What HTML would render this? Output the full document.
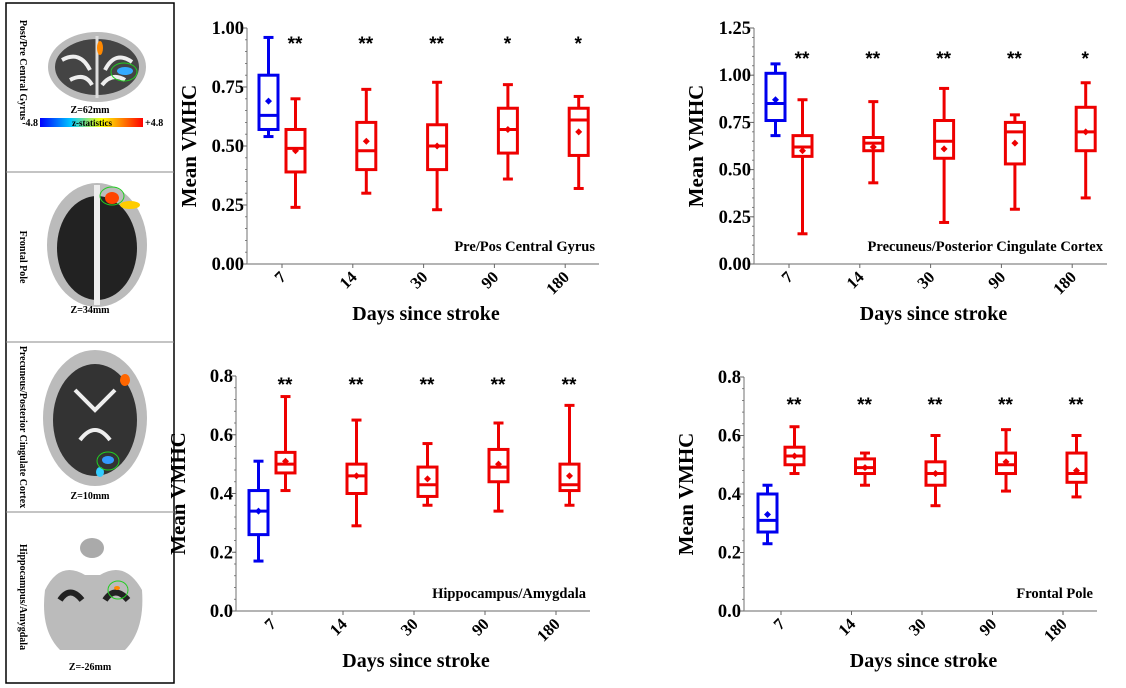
<!DOCTYPE html>
<html><head><meta charset="utf-8">
<style>
html,body{margin:0;padding:0;background:#fff;}
body{width:1126px;height:688px;position:relative;overflow:hidden;font-family:"Liberation Serif",serif;}
svg{position:absolute;left:0;top:0;}
</style></head>
<body>
<svg id="fig" width="1126" height="688" viewBox="0 0 1126 688">
  <g>
    <rect x="6" y="3" width="168" height="680" fill="#fff" stroke="#000" stroke-width="1.5"/>
    <line x1="6" y1="172" x2="174" y2="172" stroke="#888"/>
    <line x1="6" y1="342" x2="174" y2="342" stroke="#888"/>
    <line x1="6" y1="512" x2="174" y2="512" stroke="#888"/>
    <defs><linearGradient id="zg" x1="0" x2="1"><stop offset="0" stop-color="#0000ff"/><stop offset="0.3" stop-color="#00c8ff"/><stop offset="0.6" stop-color="#ffff00"/><stop offset="1" stop-color="#ff0000"/></linearGradient></defs>
    <g>
      <ellipse cx="97" cy="67" rx="49" ry="35" fill="#bbb"/>
      <ellipse cx="97" cy="67" rx="42" ry="28" fill="#444"/>
      <path d="M62 60 Q80 50 90 70 M105 70 Q115 50 132 62 M70 80 Q85 72 92 85 M102 85 Q112 72 125 80" stroke="#eee" stroke-width="4" fill="none"/>
      <line x1="97" y1="36" x2="97" y2="98" stroke="#ddd" stroke-width="3"/>
      <ellipse cx="100" cy="48" rx="3" ry="7" fill="#f80"/>
      <ellipse cx="125" cy="71" rx="8" ry="4" fill="#3af"/>
      <ellipse cx="124" cy="72" rx="13" ry="9" fill="none" stroke="#2c2" stroke-width="1"/>
      <text x="90" y="113" font-size="10" font-weight="bold" text-anchor="middle">Z=62mm</text>
      <text x="0" y="0" font-size="10" font-weight="bold" text-anchor="middle" transform="translate(20,70) rotate(90)">Post/Pre Central Gyrus</text>
      <text x="38" y="126" font-size="10" font-weight="bold" text-anchor="end">-4.8</text>
      <rect x="40" y="118" width="103" height="9" fill="url(#zg)"/>
      <text x="92" y="126" font-size="9" font-weight="bold" text-anchor="middle">z-statistics</text>
      <text x="145" y="126" font-size="10" font-weight="bold">+4.8</text>
    </g>
    <g>
      <ellipse cx="97" cy="245" rx="50" ry="62" fill="#bbb"/>
      <ellipse cx="97" cy="248" rx="40" ry="52" fill="#222"/>
      <line x1="97" y1="185" x2="97" y2="305" stroke="#eee" stroke-width="6"/>
      <ellipse cx="112" cy="198" rx="7" ry="6" fill="#f40"/>
      <ellipse cx="130" cy="205" rx="10" ry="4" fill="#fc0"/>
      <ellipse cx="112" cy="196" rx="12" ry="9" fill="none" stroke="#2c2" stroke-width="1"/>
      <text x="90" y="313" font-size="10" font-weight="bold" text-anchor="middle">Z=34mm</text>
      <text font-size="10" font-weight="bold" text-anchor="middle" transform="translate(20,257) rotate(90)">Frontal Pole</text>
    </g>
    <g>
      <ellipse cx="95" cy="418" rx="52" ry="68" fill="#bbb"/>
      <ellipse cx="95" cy="420" rx="42" ry="56" fill="#333"/>
      <path d="M75 390 L95 410 L115 390 M80 440 Q95 420 110 440" stroke="#eee" stroke-width="4" fill="none"/>
      <ellipse cx="125" cy="380" rx="5" ry="6" fill="#f60"/>
      <ellipse cx="108" cy="460" rx="6" ry="4" fill="#39f"/>
      <ellipse cx="100" cy="472" rx="4" ry="5" fill="#3cf"/>
      <ellipse cx="108" cy="461" rx="11" ry="9" fill="none" stroke="#2c2" stroke-width="1"/>
      <text x="90" y="499" font-size="10" font-weight="bold" text-anchor="middle">Z=10mm</text>
      <text font-size="10" font-weight="bold" text-anchor="middle" transform="translate(20,427) rotate(90)">Precuneus/Posterior Cingulate Cortex</text>
    </g>
    <g>
      <ellipse cx="92" cy="548" rx="12" ry="10" fill="#aaa"/>
      <path d="M45 590 Q60 560 85 575 L100 575 Q125 560 142 590 Q145 630 125 650 L60 650 Q40 630 45 590 Z" fill="#bbb"/>
      <path d="M60 600 Q70 585 82 600 M105 600 Q115 585 128 600" stroke="#222" stroke-width="6" fill="none"/>
      <ellipse cx="117" cy="588" rx="3" ry="2" fill="#f80"/>
      <ellipse cx="118" cy="590" rx="10" ry="9" fill="none" stroke="#2c2" stroke-width="1"/>
      <text x="90" y="670" font-size="10" font-weight="bold" text-anchor="middle">Z=-26mm</text>
      <text font-size="10" font-weight="bold" text-anchor="middle" transform="translate(20,597) rotate(90)">Hippocampus/Amygdala</text>
    </g>
  </g>
  <g id="charts"></g>
</svg>
<script>
const days = ["7","14","30","90","180"];
// chart 1: Pre/Pos Central Gyrus  [min, q1, median, q3, max, mean]
const c1Control = [0.54, 0.57, 0.63, 0.80, 0.96, 0.69];
const c1Min = [0.24, 0.30, 0.23, 0.36, 0.32];
const c1Q1 = [0.39, 0.40, 0.40, 0.47, 0.46];
const c1Med = [0.49, 0.48, 0.50, 0.57, 0.61];
const c1Q3 = [0.57, 0.60, 0.59, 0.66, 0.66];
const c1Max = [0.70, 0.74, 0.77, 0.76, 0.71];
const c1Mean = [0.48, 0.52, 0.50, 0.57, 0.56];
const c1Stars = ["**","**","**","*","*"];
const c1Ticks = [0, 0.25, 0.5, 0.75, 1.0];
// chart 2: Precuneus
const c2Control = [0.68, 0.76, 0.85, 1.01, 1.06, 0.87];
const c2Min = [0.16, 0.43, 0.22, 0.29, 0.35];
const c2Q1 = [0.57, 0.60, 0.56, 0.53, 0.60];
const c2Med = [0.62, 0.64, 0.65, 0.70, 0.70];
const c2Q3 = [0.68, 0.67, 0.76, 0.75, 0.83];
const c2Max = [0.87, 0.86, 0.93, 0.79, 0.96];
const c2Mean = [0.60, 0.62, 0.61, 0.64, 0.70];
const c2Stars = ["**","**","**","**","*"];
const c2Ticks = [0, 0.25, 0.5, 0.75, 1.0, 1.25];
// chart 3: Hippocampus/Amygdala
const c3Control = [0.17, 0.26, 0.34, 0.41, 0.51, 0.34];
const c3Min = [0.41, 0.29, 0.36, 0.34, 0.36];
const c3Q1 = [0.47, 0.40, 0.39, 0.44, 0.41];
const c3Med = [0.50, 0.46, 0.43, 0.49, 0.43];
const c3Q3 = [0.54, 0.50, 0.49, 0.55, 0.50];
const c3Max = [0.73, 0.65, 0.57, 0.64, 0.70];
const c3Mean = [0.51, 0.46, 0.45, 0.50, 0.46];
const c3Stars = ["**","**","**","**","**"];
const c3Ticks = [0, 0.2, 0.4, 0.6, 0.8];
// chart 4: Frontal Pole
const c4Control = [0.23, 0.27, 0.31, 0.40, 0.43, 0.33];
const c4Min = [0.47, 0.43, 0.36, 0.41, 0.39];
const c4Q1 = [0.50, 0.47, 0.43, 0.47, 0.44];
const c4Med = [0.53, 0.49, 0.47, 0.50, 0.47];
const c4Q3 = [0.56, 0.52, 0.51, 0.54, 0.54];
const c4Max = [0.63, 0.54, 0.60, 0.62, 0.60];
const c4Mean = [0.53, 0.49, 0.47, 0.51, 0.48];
const c4Stars = ["**","**","**","**","**"];
const c4Ticks = [0, 0.2, 0.4, 0.6, 0.8];

const NS = "http://www.w3.org/2000/svg";
const root = document.getElementById("charts");
function mk(tag, attrs, parent, txt) {
  const e = document.createElementNS(NS, tag);
  for (const k in attrs) e.setAttribute(k, attrs[k]);
  if (txt !== undefined) e.textContent = txt;
  parent.appendChild(e);
  return e;
}
function drawBox(g, cx, y, st, color, name) {
  const b = mk("g", {}, g);
  
  
  const w = 9.5, cap = 5;
  const sw = 3;
  mk("line", {x1: cx, x2: cx, y1: y(st[4]), y2: y(st[3]), stroke: color, "stroke-width": sw}, b);
  mk("line", {x1: cx, x2: cx, y1: y(st[1]), y2: y(st[0]), stroke: color, "stroke-width": sw}, b);
  mk("line", {x1: cx - cap, x2: cx + cap, y1: y(st[4]), y2: y(st[4]), stroke: color, "stroke-width": sw}, b);
  mk("line", {x1: cx - cap, x2: cx + cap, y1: y(st[0]), y2: y(st[0]), stroke: color, "stroke-width": sw}, b);
  mk("rect", {x: cx - w, y: y(st[3]), width: 2 * w, height: y(st[1]) - y(st[3]), fill: "none", stroke: color, "stroke-width": sw}, b);
  mk("line", {x1: cx - w, x2: cx + w, y1: y(st[2]), y2: y(st[2]), stroke: color, "stroke-width": sw}, b);
  const my = y(st[5]);
  mk("path", {d: `M${cx} ${my - 3.5} L${cx + 3.5} ${my} L${cx} ${my + 3.5} L${cx - 3.5} ${my} Z`, fill: color}, b);
}
function chart(o) {
  const g = mk("g", {}, root);
  
  
  const ymax = o.ticks[o.ticks.length - 1];
  const y = v => o.y0 - (v / ymax) * (o.y0 - o.y1);
  const x = i => o.x0 + i * o.dx;
  const ax = mk("g", {}, g);
  
  
  mk("line", {x1: o.ax, x2: o.ax, y1: o.y1, y2: o.y0, stroke: "#888", "stroke-width": 1.2}, ax);
  const nMinor = (o.ticks.length - 1) * 5;
  for (let k = 0; k <= nMinor; k++) {
    const v = ymax * k / nMinor;
    mk("line", {x1: o.ax - 2, x2: o.ax, y1: y(v), y2: y(v), stroke: "#666", "stroke-width": 0.8}, ax);
  }
  o.ticks.forEach(t => {
    mk("line", {x1: o.ax - 4, x2: o.ax, y1: y(t), y2: y(t), stroke: "#666"}, ax);
    const tl = mk("text", {x: o.ax - 3, y: y(t) + 6, "font-size": 18.5, "font-weight": "bold", "text-anchor": "end"}, ax, t.toFixed(o.dec));
    
    
  });
  const yt = mk("text", {"font-size": 21, "font-weight": "bold", "text-anchor": "middle", transform: `translate(${o.ax - 51},${(o.y0 + o.y1) / 2}) rotate(-90)`}, g, "Mean VMHC");
  
  
  const xa = mk("g", {}, g);
  
  
  mk("line", {x1: o.ax, x2: o.xend, y1: o.y0, y2: o.y0, stroke: "#888", "stroke-width": 1.2}, xa);
  days.forEach((d, i) => {
    mk("line", {x1: x(i), x2: x(i), y1: o.y0, y2: o.y0 + 4, stroke: "#666"}, xa);
    const tl = mk("text", {"font-size": 16.5, "font-weight": "bold", "text-anchor": "end", transform: `translate(${x(i) + 5},${o.y0 + 14}) rotate(-45)`}, xa, d);
    
    
  });
  const xt = mk("text", {x: (o.ax + o.xend) / 2 + 3, y: o.y0 + 56, "font-size": 20, "font-weight": "bold", "text-anchor": "middle"}, g, "Days since stroke");
  
  
  const lb = mk("text", {x: o.xend - 4, y: o.y0 - 13, "font-size": 14.5, "font-weight": "bold", "text-anchor": "end"}, g, o.label);
  
  
  drawBox(g, x(0) - 13.5, y, o.control, "#0000ee", "control-box");
  days.forEach((d, i) => {
    const st = [o.mn[i], o.q1[i], o.med[i], o.q3[i], o.mx[i], o.mean[i]];
    drawBox(g, x(i) + 13.5, y, st, "#ee0000", "box-day-" + d);
    const s = mk("text", {x: x(i) + 13, y: o.starY + 10, "font-size": 19, "font-weight": "bold", "text-anchor": "middle", "font-family": "Liberation Sans, sans-serif"}, g, o.stars[i]);
    
    
  });
}
chart({name: "chart-central-gyrus", ax: 247, xend: 599, y0: 264, y1: 28, x0: 282, dx: 70.8, ticks: c1Ticks, dec: 2, control: c1Control, mn: c1Min, q1: c1Q1, med: c1Med, q3: c1Q3, mx: c1Max, mean: c1Mean, stars: c1Stars, starY: 40, label: "Pre/Pos Central Gyrus"});
chart({name: "chart-precuneus", ax: 754, xend: 1107, y0: 264, y1: 28, x0: 789, dx: 70.8, ticks: c2Ticks, dec: 2, control: c2Control, mn: c2Min, q1: c2Q1, med: c2Med, q3: c2Q3, mx: c2Max, mean: c2Mean, stars: c2Stars, starY: 55, label: "Precuneus/Posterior Cingulate Cortex"});
chart({name: "chart-hippocampus", ax: 236, xend: 590, y0: 611, y1: 376, x0: 272, dx: 71, ticks: c3Ticks, dec: 1, control: c3Control, mn: c3Min, q1: c3Q1, med: c3Med, q3: c3Q3, mx: c3Max, mean: c3Mean, stars: c3Stars, starY: 381, label: "Hippocampus/Amygdala"});
chart({name: "chart-frontal-pole", ax: 744, xend: 1097, y0: 611, y1: 377, x0: 781, dx: 70.5, ticks: c4Ticks, dec: 1, control: c4Control, mn: c4Min, q1: c4Q1, med: c4Med, q3: c4Q3, mx: c4Max, mean: c4Mean, stars: c4Stars, starY: 401, label: "Frontal Pole"});
</script>
</body></html>
